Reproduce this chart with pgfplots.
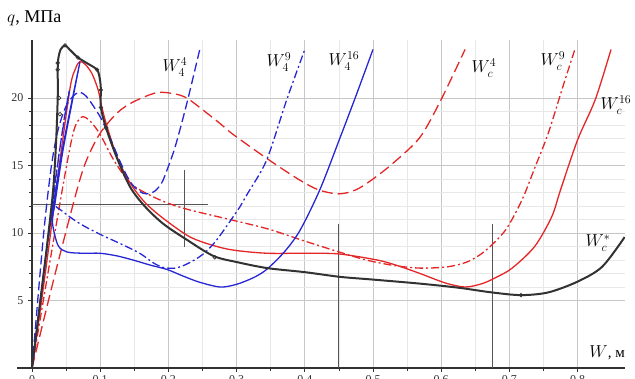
\documentclass[border=0pt]{standalone}
\usepackage{fontspec}
\setmainfont{Liberation Serif}
\usepackage{pgfplots}
\pgfplotsset{compat=1.18}
\definecolor{cred}{RGB}{228,38,38}
\definecolor{cblue}{RGB}{38,38,212}
\definecolor{cblack}{RGB}{50,50,50}
\definecolor{cann}{RGB}{85,85,85}
\begin{document}
\begin{tikzpicture}[x=1pt,y=1pt]
\begin{axis}[
  at={(32pt,11pt)}, anchor=south west,
  scale only axis, width=593pt, height=328pt,
  xmin=0, xmax=0.8695, ymin=0, ymax=24.3,
  axis x line=bottom, axis y line=left,
  axis line style={-, draw=cblack, line width=1.1pt},
  xtick={0,0.1,0.2,0.3,0.4,0.5,0.6,0.7,0.8},
  xticklabels={0,0.1,0.2,0.3,0.4,0.5,0.6,0.7,0.8},
  ytick={5,10,15,20},
  minor x tick num=1, minor y tick num=4,
  grid=both,
  major grid style={draw=black!22, line width=0.9pt},
  minor grid style={draw=black!9, line width=0.6pt},
  tick align=outside, major tick length=4pt, minor tick length=3pt,
  tick style={draw=cblack, line width=0.7pt},
  /pgf/number format/assume math mode=true,
  ticklabel style={font=\fontsize{12}{14}\selectfont, text=black!80},
  yticklabel style={xshift=-1pt},
  every axis plot/.append style={smooth, tension=0.5},
]
% annotation lines
\addplot[cann, line width=0.9pt, sharp plot] coordinates {(0,12.15) (0.258,12.15)};
\addplot[cann, line width=0.9pt, sharp plot] coordinates {(0.224,14.7) (0.224,9.0)};
\addplot[cann, line width=0.9pt, sharp plot] coordinates {(0.45,10.7) (0.45,0)};
\addplot[cann, line width=0.9pt, sharp plot] coordinates {(0.675,10.7) (0.675,0)};

% W_c^4 red dashed
\addplot[cred, line width=1.3pt, dash pattern=on 11pt off 5pt] coordinates {
(0,0) (0.033,6.8) (0.066,13.2) (0.08,15.4) (0.1,17.4) (0.125,18.9) (0.148,19.7)
(0.183,20.4) (0.21,20.3) (0.227,20.0) (0.246,19.3) (0.276,18.1) (0.295,17.3)
(0.345,15.5) (0.39,14.0) (0.42,13.2) (0.45,12.9) (0.475,13.2) (0.5,14.0) (0.53,15.2)
(0.569,17.1) (0.60,19.9) (0.635,23.6)};

% W_c^9 red dash-dot
\addplot[cred, line width=1.3pt, dash pattern=on 8pt off 3pt on 2pt off 3pt] coordinates {
(0,0) (0.025,7.5) (0.05,14.8) (0.062,17.7) (0.073,18.6) (0.085,18.3) (0.1,17.3)
(0.12,15.4) (0.144,13.7) (0.173,12.8) (0.20,12.2) (0.232,11.7) (0.29,11.0) (0.346,10.3)
(0.40,9.4) (0.45,8.6) (0.49,8.0) (0.53,7.6) (0.569,7.4) (0.61,7.5) (0.64,7.9)
(0.665,8.7) (0.694,10.2) (0.718,12.4) (0.737,14.8) (0.757,17.4) (0.78,21.1) (0.796,23.6)};

% W_c^16 red solid
\addplot[cred, line width=1.3pt] coordinates {
(0,0) (0.013,4.6) (0.026,9.5) (0.04,15.0) (0.056,20.8) (0.064,22.2) (0.07,22.7)
(0.078,22.5) (0.088,21.8) (0.097,20.6) (0.1025,19.3) (0.11,17.9) (0.125,15.6)
(0.144,13.7) (0.165,12.3) (0.192,11.1) (0.232,9.7) (0.271,9.0) (0.30,8.7) (0.345,8.5)
(0.40,8.5) (0.45,8.45) (0.506,8.0) (0.535,7.6) (0.569,7.0) (0.606,6.3) (0.635,6.0)
(0.66,6.25) (0.68,6.7) (0.704,7.4) (0.737,9.0) (0.762,11.2) (0.775,13.2) (0.80,16.9)
(0.826,19.9) (0.849,23.6)};

% W_4^4 blue dashed
\addplot[cblue, line width=1.3pt, dash pattern=on 9pt off 4pt] coordinates {
(0,0) (0.0166,9.7) (0.028,14.8) (0.038,17.6) (0.051,19.5) (0.067,20.4) (0.08,20.1)
(0.1,18.6) (0.114,17.1) (0.13,15.2) (0.144,13.8) (0.157,13.1) (0.168,12.9)
(0.18,13.1) (0.19,13.7) (0.1975,14.6) (0.21,16.4) (0.227,19.6) (0.246,23.6)};

% W_4^9 blue dash-dot
\addplot[cblue, line width=1.3pt, dash pattern=on 8pt off 3pt on 2pt off 3pt] coordinates {
(0,0) (0.02,8.0) (0.04,16.0) (0.055,20.6) (0.047,18.4) (0.038,15.2) (0.031,12.4)
(0.045,11.6) (0.07,10.7) (0.1,9.9) (0.13,9.2) (0.158,8.5) (0.1775,7.8) (0.1925,7.45)
(0.21,7.4) (0.227,7.7) (0.25,8.4) (0.271,9.5) (0.305,11.95) (0.317,13.0) (0.344,15.4)
(0.373,19.8) (0.40,23.6)};

% W_4^16 blue solid
\addplot[cblue, line width=1.3pt] coordinates {
(0,0) (0.012,4.9) (0.024,9.7) (0.045,16.3) (0.07,22.6) (0.06,20.0) (0.045,16.0)
(0.034,12.3) (0.03,10.8) (0.038,9.1) (0.051,8.6) (0.075,8.5) (0.1,8.5) (0.125,8.3)
(0.148,8.0) (0.175,7.6) (0.198,7.3) (0.222,6.8) (0.246,6.35) (0.276,6.0) (0.30,6.2)
(0.325,6.7) (0.344,7.3) (0.37,8.6) (0.393,10.2) (0.422,13.2) (0.452,17.1)
(0.476,20.3) (0.5,23.6)};

% W_c^* black
\addplot[cblack, line width=2pt] coordinates {
(0,0) (0.012,4.9) (0.023,9.5) (0.031,13.2) (0.035,16.4) (0.0377,20.0) (0.0377,22.1)
(0.0385,22.9) (0.042,23.6) (0.0484,23.9) (0.055,23.6) (0.0674,23.0) (0.08,22.6)
(0.0953,22.1) (0.0995,21.4) (0.101,20.6) (0.101,19.3) (0.1085,17.8) (0.125,15.5)
(0.144,13.4) (0.165,12.0) (0.192,10.7) (0.227,9.5) (0.266,8.3) (0.30,7.85)
(0.345,7.4) (0.40,7.1) (0.452,6.75) (0.50,6.55) (0.569,6.25) (0.625,5.95)
(0.674,5.6) (0.717,5.4) (0.757,5.6) (0.80,6.4) (0.836,7.5) (0.869,9.7)};
\addplot[only marks, mark=o, mark size=1.8pt, mark options={draw=cblack, fill=white, line width=0.7pt}] coordinates {
(0.0377,22.6) (0.0377,22.1) (0.0396,20.0) (0.041,18.8) (0.0484,23.9) (0.0674,23.0)
(0.0953,22.1) (0.101,20.6) (0.101,19.3) (0.1085,17.8) (0.268,8.2) (0.717,5.4)};
\end{axis}
\draw[cblack, line width=1.1pt] (17,11) -- (32,11);
\begin{scope}[every node/.style={font=\fontsize{17}{20}\selectfont, inner sep=0pt}]
\node at (175,312) {$W_4^4$};
\node at (279,317) {$W_4^9$};
\node at (344,318) {$W_4^{16}$};
\node at (484,311) {$W_c^4$};
\node at (553,318) {$W_c^9$};
\node at (616,274) {$W_c^{16}$};
\node at (598,136) {$W_c^{*}$};
\node[anchor=east] at (625,26) {$W$\fontsize{15}{18}\selectfont, м};
\node[anchor=west, font=\fontsize{18}{21}\selectfont] at (7,361) {$q$, МПа};
\end{scope}
\pgfresetboundingbox
\path[use as bounding box] (0,0) rectangle (635,379);
\end{tikzpicture}
\end{document}
